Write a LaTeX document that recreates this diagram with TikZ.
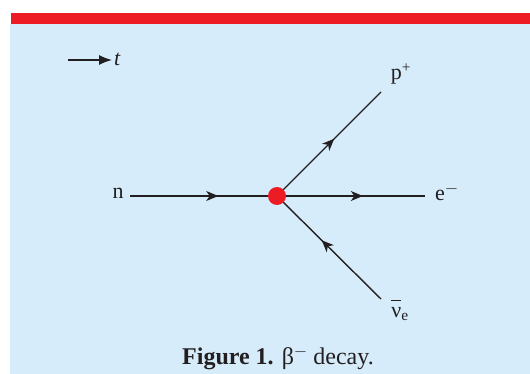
\documentclass[tikz,border=0pt]{standalone}
\usepackage{fontspec}
\setmainfont{Liberation Serif}
\usetikzlibrary{arrows.meta,decorations.markings}
\definecolor{bgblue}{RGB}{214,236,250}
\definecolor{bandred}{RGB}{237,28,36}
\definecolor{ink}{RGB}{35,31,32}
\newcommand{\supminus}{\raisebox{0.75ex}{\fontsize{17}{17}\selectfont$-$}}
\begin{document}
\begin{tikzpicture}[x=1pt,y=-1pt,
  line/.style={draw=ink,line width=1.4pt},
  midarrow/.style={line,postaction={decorate},decoration={markings,mark=at position #1 with {\arrow{Stealth[length=12pt,width=10pt,inset=3.5pt]}}}},
  lbl/.style={text=ink,font=\fontsize{22}{26}\selectfont,inner sep=0pt}]
\useasboundingbox (0,0) rectangle (530,374);
\fill[white] (0,0) rectangle (530,374);
\fill[bgblue] (10,24) rectangle (530,374);
\fill[bandred] (11,13) rectangle (530,24);
% time arrow
\coordinate (t0) at (68,60);
\coordinate (t1) at (112,60);
\draw[line,-{Latex[length=13pt,width=10pt]}] (t0) -- (t1);
\node[lbl,anchor=west] (tl) at (114,59) {\textit{t}};
% vertex
\coordinate (v) at (277,196);
\coordinate (nS) at (130,196);
\coordinate (eE) at (425,196);
\coordinate (pE) at (381,92);
\coordinate (nuS) at (381,299);
\draw[midarrow=0.6] (nS) -- (v);
\draw[midarrow=0.58] (v) -- (eE);
\draw[midarrow=0.55] (v) -- (pE);
\draw[midarrow=0.57] (nuS) -- (v);
\node[circle,fill=bandred,minimum size=18pt,inner sep=0pt] (vd) at (v) {};
\node[lbl] (nl) at (118,193) {n};
\node[lbl,anchor=west] (el) at (435,192) {e\supminus};
\node[lbl] (pl) at (401,74) {p\textsuperscript{+}};
\node[lbl] (nul) at (400,310) {$\overline{\mbox{ν\vphantom{d}}}$\textsubscript{e}};
\node[text=ink,inner sep=0pt,font=\fontsize{24}{28}\selectfont] (cap) at (278,358) {\textbf{Figure 1.} β\raisebox{0.7ex}{\fontsize{18}{18}\selectfont$-$} decay.};
\end{tikzpicture}
\end{document}
